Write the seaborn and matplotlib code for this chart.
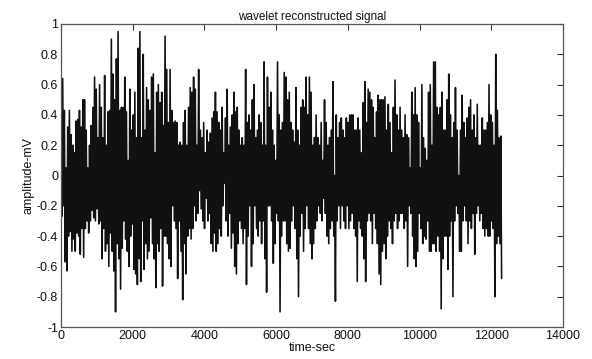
import numpy as np
import pandas as pd
import matplotlib
matplotlib.use("Agg")
import matplotlib.pyplot as plt
import seaborn as sns

# Upper peaks of the signal (read left to right)
upper = [
    0.43, 0.64, 0.43, 0.05, 0.32, 0.43, 0.27, 0.2, 0.15, 0.36, 0.37, 0.43, 0.32, 0.5, 0.5, 0.3,
    0.05, 0.2, 0.33, 0.45, 0.65, 0.57, 0.25, 0.6, 0.45, 0.25, 0.66, 0.2, 0.42, 0.43, 0.9, 0.67,
    0.5, 0.77, 0.95, 0.43, 0.45, 0.45, 0.65, 0.42, 0.1, 0.57, 0.3, 0.4, 0.55, 0.25, 0.84, 0.95,
    0.25, 0.8, 0.3, 0.58, 0.5, 0.43, 0.65, 0.67, 0.15, 0.55, 0.6, 0.48, 0.55, 0.33, 0.92, 0.7,
    0.35, 0.7, 0.43, 0.35, 0.36, 0.35, 0.2, 0.22, 0.2, 0.35, 0.43, 0.2, 0.45, 0.58, 0.55, 0.65,
    0.57, 0.2, 0.7,
    0.3, 0.25, 0.35, 0.15, 0.3, 0.22, 0.28, 0.38, 0.42, 0.55, 0.42, 0.35, 0.3, 0.45, 0.15, 0.38,
    0.57, 0.2, 0.32, 0.4, 0.55, 0.42, 0.45, 0.3, 0.2, 0.25, 0.2, 0.7, 0.35, 0.4, 0.3, 0.5,
    0.6, 0.25, 0.3, 0.4, 0.35, 0.2, 0.75, 0.2, 0.65, 0.45, 0.55, 0.3, 0.2, 0.1, 0.75, 0.4,
    0.3, 0.35, 0.68, 0.65, 0.5, 0.55, 0.35, 0.3, 0.22, 0.58, 0.3, 0.2, 0.45, 0.5, 0.45, 0.65,
    0.4, 0.65, 0.55, 0.2, 0.25, 0.4, 0.25, 0.2, 0.35, 0.1, 0.5, 0.35, 0.2, 0.25, 0.3, 0.62,
    0.0, 0.4, 0.25, 0.35, 0.38, 0.3, 0.25, 0.38, 0.35, 0.4, 0.4, 0.4, 0.3, 0.3, 0.38, 0.3,
    0.15, 0.48, 0.62, 0.35, 0.57, 0.55, 0.5, 0.45, 0.25, 0.42, 0.53, 0.5, 0.5, 0.5, 0.52, 0.3,
    0.47, 0.35, 0.15, 0.45, 0.63, 0.4, 0.3, 0.45,
    0.3, 0.25, 0.4, 0.27, 0.25, 0.05, 0.55, 0.4, 0.58, 0.4, 0.35, 0.05, 0.6, 0.25, 0.18, 0.1,
    0.55, 0.6, 0.2, 0.75, 0.75, 0.45, 0.4, 0.45, 0.55, 0.3, 0.3, 0.5, 0.67, 0.4, 0.25, 0.35,
    0.58, 0.3, 0.0, 0.3, 0.53, 0.35, 0.25, 0.38, 0.45, 0.5, 0.3, 0.4, 0.25, 0.47, 0.2, 0.2,
    0.38, 0.3, 0.3, 0.35, 0.6, 0.4, 0.35, 0.2, 0.8, 0.43, 0.25, 0.26,
]

# Lower peaks of the signal (read left to right)
lower = [
    -0.27, -0.2, -0.57, -0.63, -0.4, -0.37, -0.5, -0.42, -0.5, -0.38, -0.4, -0.52, -0.35, -0.54, -0.35, -0.3,
    -0.38, -0.3, -0.23, -0.28, -0.3, -0.22, -0.32, -0.3, -0.55, -0.35, -0.5, -0.45, -0.6, -0.38, -0.5, -0.63,
    -0.9, -0.45, -0.55, -0.75, -0.48, -0.3, -0.42, -0.5, -0.6, -0.4, -0.32, -0.62, -0.65, -0.72, -0.55, -0.7,
    -0.3, -0.62, -0.45, -0.55, -0.5, -0.28, -0.45, -0.55, -0.74, -0.45, -0.5, -0.35, -0.73, -0.4, -0.4, -0.45,
    -0.55, -0.6, -0.2, -0.3, -0.35, -0.68, -0.3, -0.5, -0.82, -0.45, -0.65, -0.4, -0.35, -0.42, -0.35, -0.2,
    -0.3, -0.25, -0.1,
    -0.22, -0.3, -0.35, -0.15, -0.3, -0.25, -0.45, -0.5, -0.38, -0.5, -0.45, -0.35, -0.4, -0.2, -0.05, -0.3,
    -0.4, -0.25, -0.48, -0.38, -0.6, -0.65, -0.45, -0.3, -0.35, -0.45, -0.35, -0.72, -0.4, -0.2, -0.6, -0.45,
    -0.2, -0.35, -0.4, -0.3, -0.45, -0.3, -0.55, -0.77, -0.2, -0.2, -0.3, -0.58, -0.45, -0.25, -0.3, -0.9,
    -0.4, -0.3, -0.3, -0.45, -0.5, -0.48, -0.3, -0.2, -0.35, -0.55, -0.8, -0.4, -0.25, -0.5, -0.35, -0.2,
    -0.35, -0.45, -0.55, -0.45, -0.35, -0.3, -0.2, -0.25, -0.3, -0.15, -0.25, -0.4, -0.45, -0.35, -0.3, -0.4,
    -0.83, -0.3, -0.2, -0.35, -0.2, -0.3, -0.35, -0.2, -0.35, -0.3, -0.25, -0.35, -0.4, -0.7, -0.3, -0.35,
    -0.4, -0.55, -0.7, -0.3, -0.25, -0.3, -0.45, -0.25, -0.35, -0.45, -0.65, -0.72, -0.5, -0.45, -0.55, -0.4,
    -0.3, -0.35, -0.45, -0.3, -0.25, -0.35, -0.3, -0.25,
    -0.25, -0.35, -0.3, -0.6, -0.2, -0.25, -0.4, -0.55, -0.6, -0.5, -0.25, -0.35, -0.45, -0.4, -0.42, -0.3,
    -0.5, -0.5, -0.45, -0.45, -0.5, -0.4, -0.5, -0.88, -0.55, -0.4, -0.4, -0.62, -0.4, -0.3, -0.8, -0.3,
    -0.2, -0.25, -0.5, -0.5, -0.3, -0.2, -0.3, -0.45, -0.3, -0.35, -0.25, -0.52, -0.25, -0.2, -0.3, -0.25,
    -0.35, -0.4, -0.35, -0.4, -0.4, -0.3, -0.35, -0.8, -0.45, -0.4, -0.45, -0.68, -0.2,
]

t_end = 12288  # last sample time (sec)
x_ticks = [0, 2000, 4000, 6000, 8000, 10000, 12000, 14000]
y_ticks = [-1, -0.8, -0.6, -0.4, -0.2, 0, 0.2, 0.4, 0.6, 0.8, 1]
y_tick_labels = ["-1", "-0.8", "-0.6", "-0.4", "-0.2", "0", "0.2", "0.4", "0.6", "0.8", "1"]

n = min(len(upper), len(lower))
sig = np.empty(2 * n)
sig[0::2] = upper[:n]
sig[1::2] = lower[:n]
t = np.linspace(0, t_end, 2 * n)
df = pd.DataFrame({"time": t, "amp": sig})

sns.set_theme(style="white")
plt.rcParams["font.family"] = ["Liberation Sans", "DejaVu Sans"]

fig = plt.figure(figsize=(5.92, 3.59), dpi=100)
ax = fig.add_axes([61 / 592, 1 - 327 / 359, 502 / 592, 303 / 359])

sns.lineplot(data=df, x="time", y="amp", ax=ax, color="#111111",
             linewidth=1.15, estimator=None, sort=False)

ax.set_xlim(0, 14000)
ax.set_ylim(-1, 1)
ax.set_xticks(x_ticks)
ax.set_xticklabels([str(v) for v in x_ticks])
ax.set_yticks(y_ticks)
ax.set_yticklabels(y_tick_labels)
ax.tick_params(direction="in", length=4, width=0.8, colors="#333333",
               labelsize=9, top=True, right=True, pad=2, labelcolor="#111111")
for s in ax.spines.values():
    s.set_color("#555555")
    s.set_linewidth(0.9)

ax.set_title("wavelet reconstructed signal", fontsize=8.5, pad=3, color="#111111")
ax.set_xlabel("time-sec", fontsize=9, labelpad=0, color="#111111")
ax.set_ylabel("amplitude-mV", fontsize=9, labelpad=2, color="#111111")

fig.savefig("out.png", dpi=100)
